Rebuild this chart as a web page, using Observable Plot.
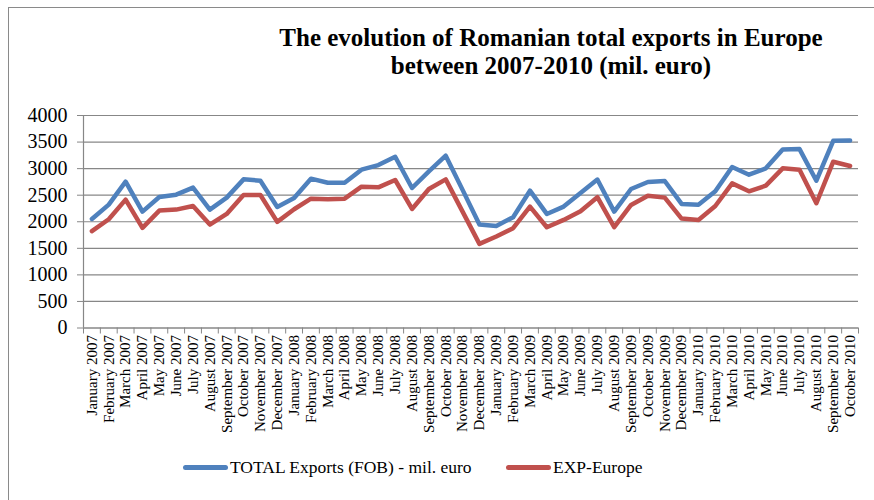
<!DOCTYPE html>
<html>
<head>
<meta charset="utf-8">
<script src="https://cdn.jsdelivr.net/npm/d3@7"></script>
<script src="https://cdn.jsdelivr.net/npm/@observablehq/plot@0.6"></script>
<style>
  html, body { margin: 0; padding: 0; background: #fff; }
  #wrap { position: relative; width: 874px; height: 500px; overflow: hidden; font-family: "Liberation Serif", "Times New Roman", serif; }
  #border { position: absolute; left: 8px; top: 7px; width: 900px; height: 520px; border-left: 1px solid #8a8a8a; border-top: 1px solid #8a8a8a; }
  #title { position: absolute; left: 251px; top: 24px; width: 600px; text-align: center; font-weight: bold; font-size: 25px; line-height: 28px; color: #000; }
  #chart { position: absolute; left: 0; top: 0; }
  #chart svg text { font-family: "Liberation Serif", "Times New Roman", serif; }
  .leg { position: absolute; top: 456px; height: 22px; display: flex; align-items: center; font-size: 17.5px; color: #000; white-space: nowrap; font-family: "Liberation Serif", "Times New Roman", serif; }
  .sw { width: 45px; height: 5px; border-radius: 3px; margin-right: 2px; }
</style>
</head>
<body>
<div id="wrap">
  <div id="border"></div>
  <div id="chart"></div>
  <div id="title">The evolution of Romanian total exports in Europe<br>between 2007-2010 (mil. euro)</div>
  <div id="legend"></div>
</div>
<script>
const months = [
  "January 2007","February 2007","March 2007","April 2007","May 2007","June 2007","July 2007","August 2007","September 2007","October 2007","November 2007","December 2007",
  "January 2008","February 2008","March 2008","April 2008","May 2008","June 2008","July 2008","August 2008","September 2008","October 2008","November 2008","December 2008",
  "January 2009","February 2009","March 2009","April 2009","May 2009","June 2009","July 2009","August 2009","September 2009","October 2009","November 2009","December 2009",
  "January 2010","February 2010","March 2010","April 2010","May 2010","June 2010","July 2010","August 2010","September 2010","October 2010"
];
const totalExports = [
  2053,2322,2754,2191,2466,2510,2642,2229,2454,2798,2773,2279,
  2448,2811,2733,2735,2980,3067,3224,2635,2948,3243,2600,1947,
  1922,2085,2585,2147,2285,2542,2795,2191,2617,2748,2767,2335,
  2322,2573,3030,2886,3005,3362,3368,2773,3524,3531
];
const expEurope = [
  1822,2047,2416,1884,2210,2229,2297,1947,2147,2504,2504,1997,
  2235,2435,2423,2435,2661,2648,2786,2241,2617,2798,2191,1584,
  1722,1878,2285,1897,2035,2197,2463,1897,2316,2491,2454,2060,
  2035,2297,2723,2573,2679,3005,2980,2348,3130,3049
];
const yTicks = [0,500,1000,1500,2000,2500,3000,3500,4000];
const seriesNames = ["TOTAL Exports (FOB) - mil. euro", "EXP-Europe"];
const seriesColors = ["#4F81BD", "#C0504D"];

const data = months.flatMap((m, i) => [
  {month: m, value: totalExports[i], series: seriesNames[0]},
  {month: m, value: expEurope[i], series: seriesNames[1]}
]);

const W = 874, H = 500, ML = 83, MR = 16, MT = 115, MB = 172.5;
const step = (W - ML - MR) / months.length;
const unitsPerPx = 4000 / (H - MT - MB);
const gray = "#878787";

const chart = Plot.plot({
  width: W, height: H,
  marginLeft: ML, marginRight: MR, marginTop: MT, marginBottom: MB,
  style: "font-family: 'Liberation Serif', 'Times New Roman', serif; background: transparent; color: #000; overflow: visible;",
  x: {type: "point", domain: months, padding: 0.5, label: null},
  y: {domain: [0, 4000], label: null},
  color: {domain: seriesNames, range: seriesColors},
  marks: [
    Plot.gridY(yTicks, {stroke: gray, strokeOpacity: 1, strokeWidth: 1.2}),
    Plot.ruleY([0], {stroke: gray, strokeWidth: 1.2}),
    Plot.ruleX([months[0]], {dx: -step / 2, stroke: gray, strokeWidth: 1.2}),
    Plot.ruleX(months, {x: d => d, y1: 0, y2: -6 * unitsPerPx, dx: -step / 2, stroke: gray, strokeWidth: 1}),
    Plot.ruleX([months[months.length - 1]], {y1: 0, y2: -6 * unitsPerPx, dx: step / 2, stroke: gray, strokeWidth: 1}),
    Plot.axisY(yTicks, {tickSize: 6, tickPadding: 10, fontSize: 20, stroke: gray, tickFormat: d => String(d)}),
    Plot.axisX(months, {tickSize: 0, tickPadding: 7, tickRotate: -90, fontSize: 15}),
    Plot.line(data, {x: "month", y: "value", z: "series", stroke: "series", strokeWidth: 4.5, strokeLinejoin: "round", strokeLinecap: "round"})
  ]
});
document.getElementById("chart").appendChild(chart);

const legend = document.getElementById("legend");
const legendLeft = [183, 506];
seriesNames.forEach((name, i) => {
  const item = document.createElement("div");
  item.className = "leg";
  item.style.left = legendLeft[i] + "px";
  const sw = document.createElement("div");
  sw.className = "sw";
  sw.style.background = seriesColors[i];
  const tx = document.createElement("span");
  tx.textContent = name;
  item.appendChild(sw);
  item.appendChild(tx);
  legend.appendChild(item);
});
</script>
</body>
</html>
